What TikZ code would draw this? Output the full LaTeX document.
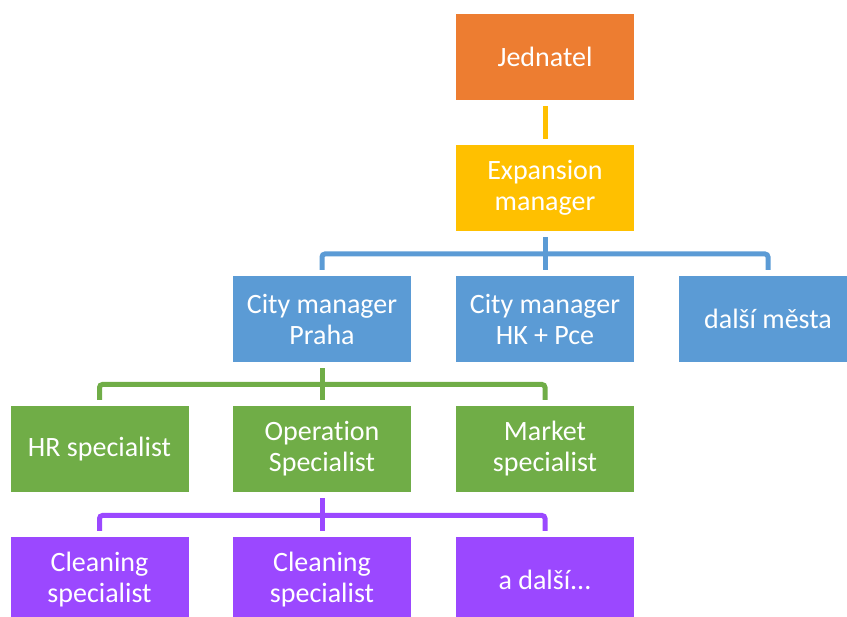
\documentclass[tikz,border=0pt]{standalone}
\usepackage{fontspec}
\setmainfont{Carlito}[Ligatures=NoCommon]
\begin{document}
\begin{tikzpicture}[x=1pt,y=-1pt]
	\definecolor{boss}{HTML}{ED7D31}
	\definecolor{expansion}{HTML}{FFC000}
	\definecolor{city}{HTML}{5B9BD5}
	\definecolor{spec}{HTML}{70AD47}
	\definecolor{clean}{HTML}{9B48FF}
	\tikzset{box/.style={fill=#1, text=white, minimum width=178pt, minimum height=86pt,
			inner sep=0pt, align=center, font=\fontsize{28}{31}\selectfont},
		link/.style={draw=#1, line width=5pt, rounded corners=3pt}}
	\useasboundingbox (0,0) rectangle (847,617);
	\clip (0,0) rectangle (847,617);
	\node[box=boss] (jed) at (545,57) {Jednatel};
	\node[box=expansion] (exp) at (545,188) {Expansion\\manager};
	\node[box=city] (praha) at (322,319) {City manager\\Praha};
	\node[box=city] (hk) at (545,319) {City manager\\HK + Pce};
	\node[box=city] (mesta) at (768,319) {další města};
	\node[box=spec] (hr) at (99.5,449) {HR specialist};
	\node[box=spec] (oper) at (322,449) {Operation\\Specialist};
	\node[box=spec] (market) at (545,449) {Market\\specialist};
	\node[box=clean] (clean1) at (99.5,580) {Cleaning\\specialist};
	\node[box=clean] (clean2) at (322,580) {Cleaning\\specialist};
	\node[box=clean] (dalsi) at (545,580) {a další...};
	\coordinate (citybar) at (0,254);
	\coordinate (specbar) at (0,384.5);
	\coordinate (cleanbar) at (0,515.5);
	\draw[link=expansion, shorten <=6pt, shorten >=6pt] (jed.south) -- (exp.north);
	\draw[link=city, shorten <=6pt] (exp.south) -- (exp.south |- citybar);
	\draw[link=city, shorten <=6pt, shorten >=6pt] (praha.north) -- (praha.north |- citybar)
		-- (mesta.north |- citybar) -- (mesta.north);
	\draw[link=city, shorten >=6pt] (hk.north |- citybar) -- (hk.north);
	\draw[link=spec, shorten <=6pt] (praha.south) -- (praha.south |- specbar);
	\draw[link=spec, shorten <=6pt, shorten >=6pt] (hr.north) -- (hr.north |- specbar)
		-- (market.north |- specbar) -- (market.north);
	\draw[link=spec, shorten >=6pt] (oper.north |- specbar) -- (oper.north);
	\draw[link=clean, shorten <=6pt] (oper.south) -- (oper.south |- cleanbar);
	\draw[link=clean, shorten <=6pt, shorten >=6pt] (clean1.north) -- (clean1.north |- cleanbar)
		-- (dalsi.north |- cleanbar) -- (dalsi.north);
	\draw[link=clean, shorten >=6pt] (clean2.north |- cleanbar) -- (clean2.north);
\end{tikzpicture}
\end{document}
